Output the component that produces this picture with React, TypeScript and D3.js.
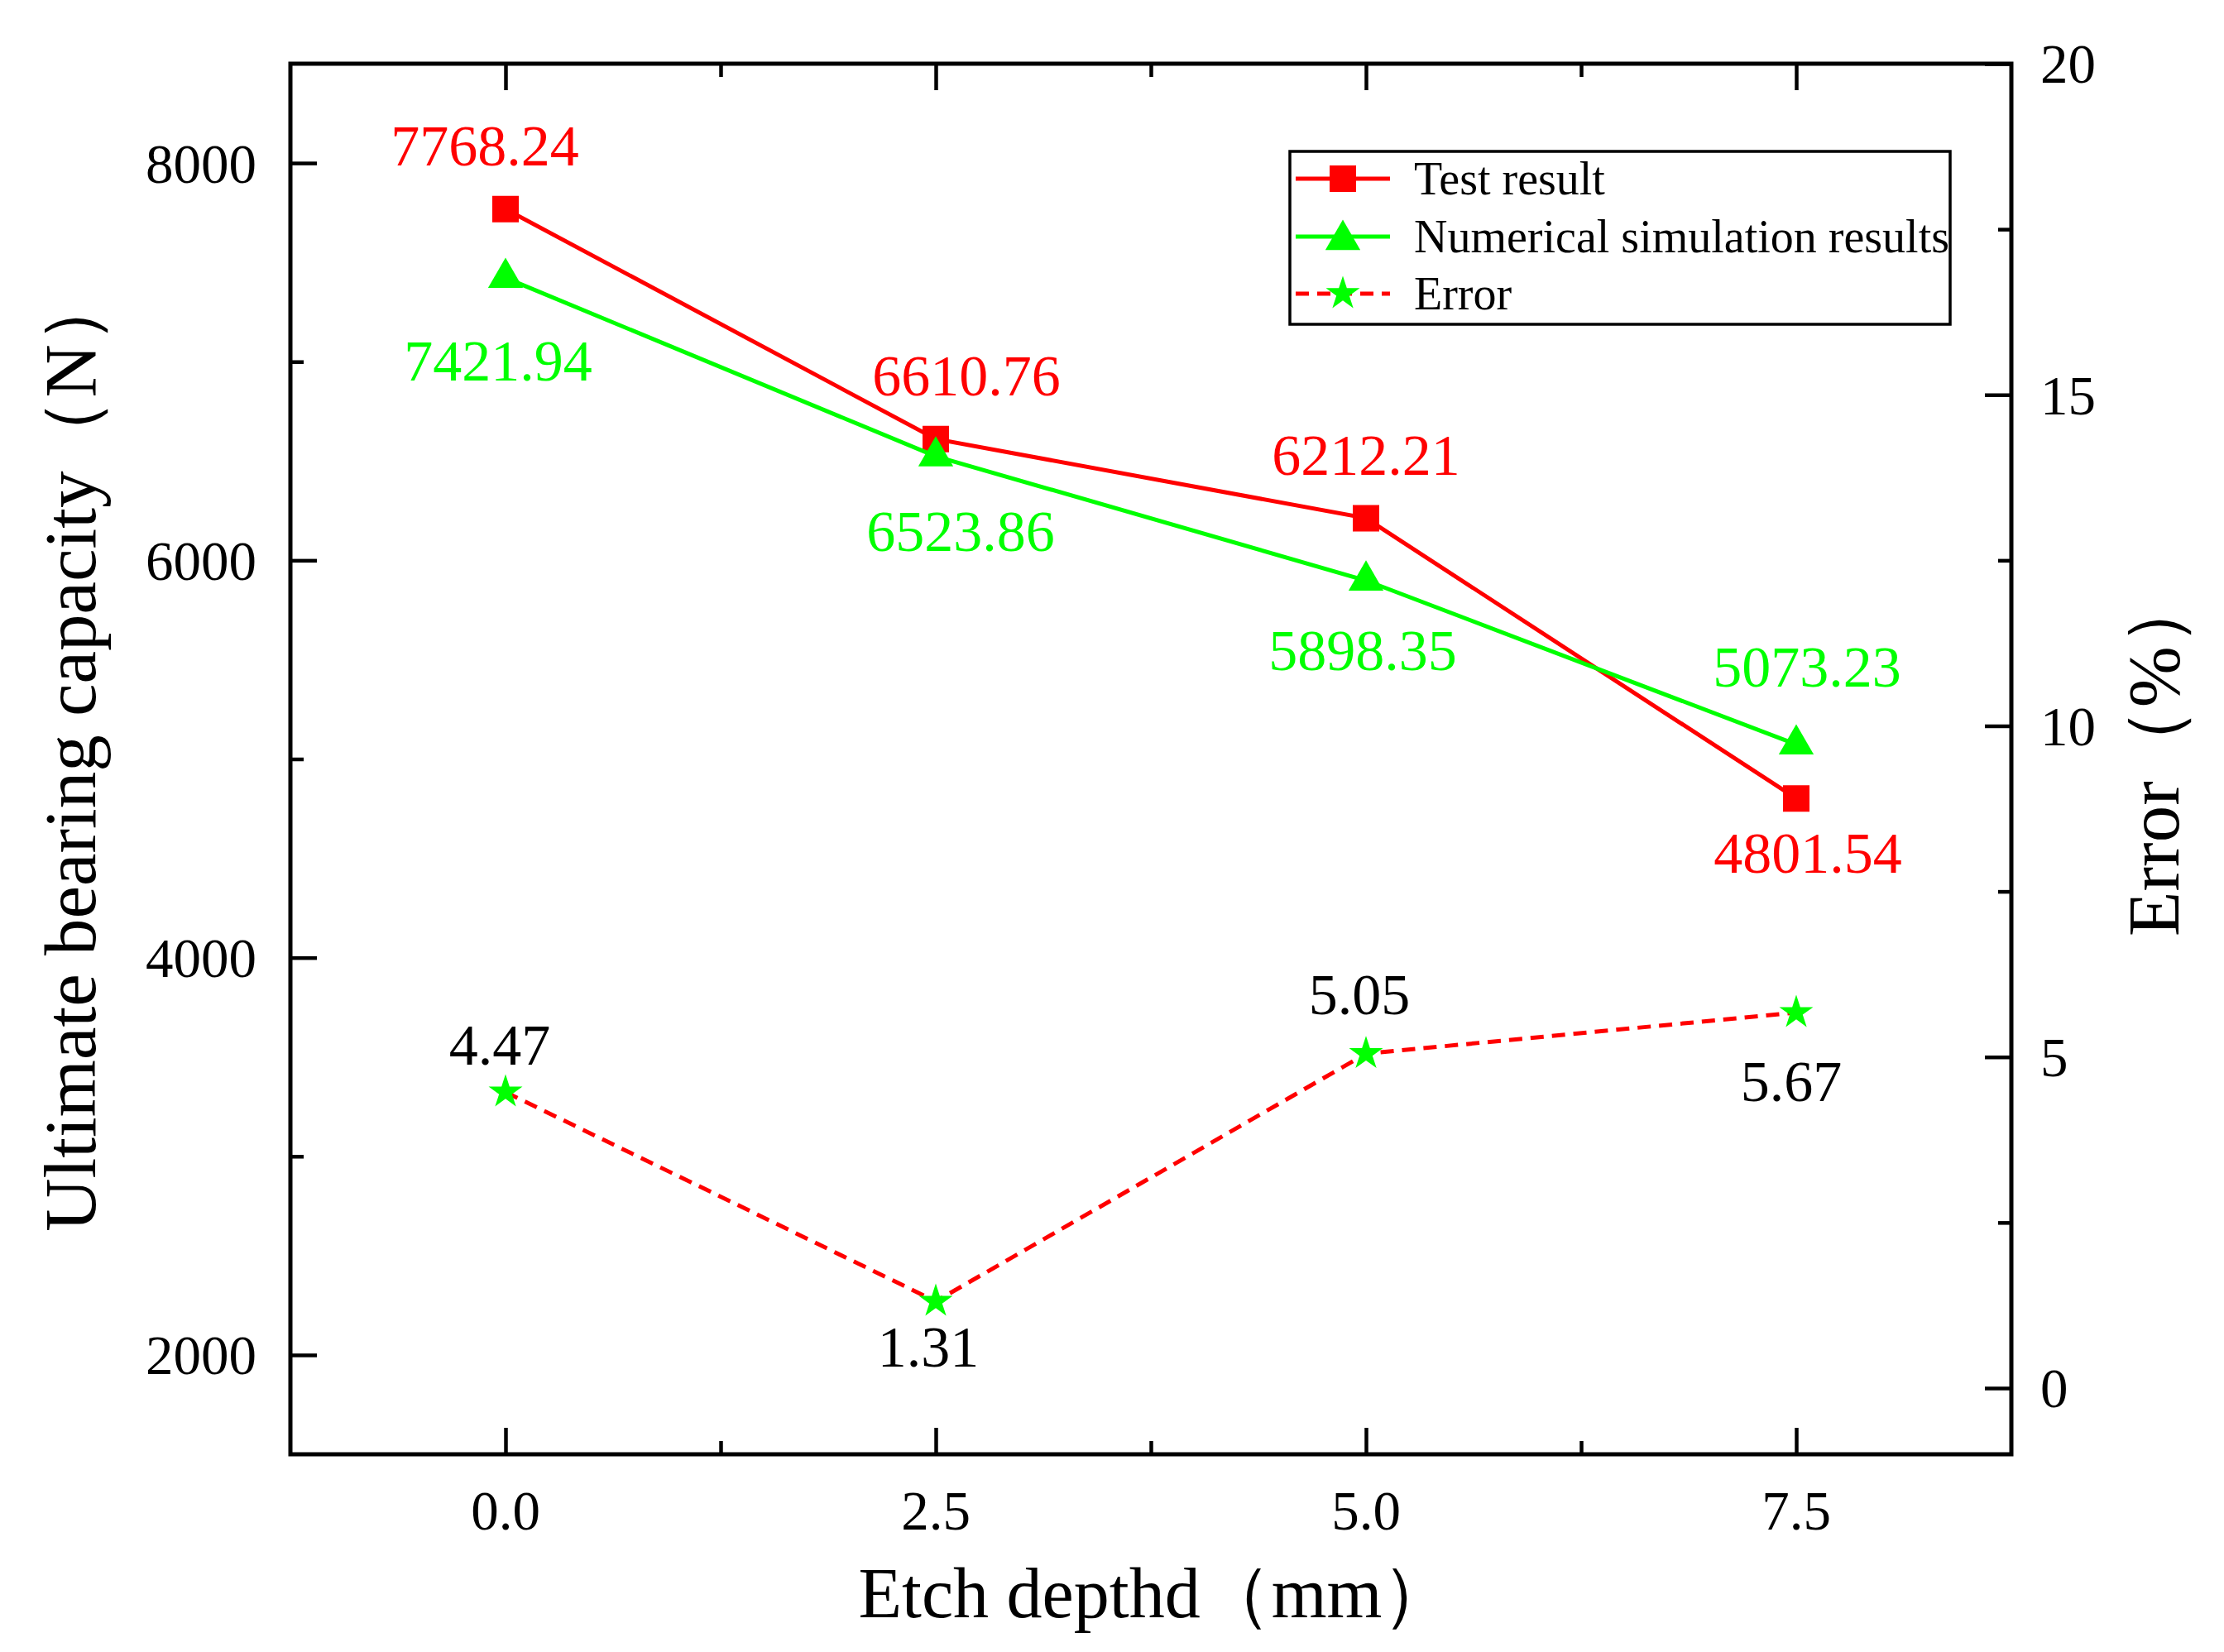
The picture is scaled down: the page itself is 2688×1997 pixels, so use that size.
import React, { useEffect, useRef } from 'react';
import * as d3 from 'd3';

// etch depth (mm)
const depths = [0, 2.5, 5.0, 7.5];
// ultimate bearing capacity (N)
const testResult = [7768.24, 6610.76, 6212.21, 4801.54];
const simResult = [7421.94, 6523.86, 5898.35, 5073.23];
// error (%)
const errorPct = [4.47, 1.31, 5.05, 5.67];

const xTicks = [0, 2.5, 5, 7.5];
const xMinorTicks = [1.25, 3.75, 6.25];
const yTicks = [2000, 4000, 6000, 8000];
const yMinorTicks = [3000, 5000, 7000];
const errTicks = [0, 5, 10, 15, 20];
const errMinorTicks = [2.5, 7.5, 12.5, 17.5];

const legendLabels = ['Test result', 'Numerical simulation results', 'Error'];

// label nudges [dx, dy] from each point
const testLabelNudge = [[-25, -53], [37, -53], [0, -52], [14, 90]];
const simLabelNudge = [[-9, 124], [30, 114], [-4, 108], [13, -70]];
const errLabelNudge = [[-7, -33], [-9, 79], [-8, -48], [-6, 107]];

const RED = '#ff0000';
const GREEN = '#00ff00';
const FONT = "'Liberation Serif', 'Times New Roman', serif";

export default function App() {
  const svgRef = useRef<SVGSVGElement>(null);

  useEffect(() => {
    if (!svgRef.current) return;
    const svg = d3.select(svgRef.current);
    svg.selectAll('*').remove();

    const W = 2688;
    const H = 1997;
    const left = 351, right = 2431, top = 77, bottom = 1758;

    svg.attr('width', W).attr('height', H);
    svg.append('rect').attr('width', W).attr('height', H).attr('fill', 'white');

    // 比例尺
    const x = d3.scaleLinear().domain([-1.25, 8.75]).range([left, right]);
    const y = d3.scaleLinear().domain([1500, 8500]).range([bottom, top]);
    const yErr = d3.scaleLinear().domain([-1, 20]).range([bottom, top]);

    // ticks (inward)
    const tickGroup = (axis: d3.Axis<d3.NumberValue>, tx: number, ty: number) => {
      const g = svg.append('g').attr('transform', `translate(${tx},${ty})`).call(axis);
      g.select('.domain').remove();
      g.selectAll('line').attr('stroke', 'black').attr('stroke-width', 4.5);
      g.selectAll('text').remove();
    };
    tickGroup(d3.axisBottom(x).tickValues(xTicks).tickSize(-32), 0, bottom);
    tickGroup(d3.axisBottom(x).tickValues(xMinorTicks).tickSize(-16), 0, bottom);
    tickGroup(d3.axisTop(x).tickValues(xTicks).tickSize(-32), 0, top);
    tickGroup(d3.axisTop(x).tickValues(xMinorTicks).tickSize(-16), 0, top);
    tickGroup(d3.axisLeft(y).tickValues(yTicks).tickSize(-32), left, 0);
    tickGroup(d3.axisLeft(y).tickValues(yMinorTicks).tickSize(-16), left, 0);
    tickGroup(d3.axisRight(yErr).tickValues(errTicks).tickSize(-32), right, 0);
    tickGroup(d3.axisRight(yErr).tickValues(errMinorTicks).tickSize(-16), right, 0);

    // frame
    svg.append('rect')
      .attr('x', left).attr('y', top)
      .attr('width', right - left).attr('height', bottom - top)
      .attr('fill', 'none').attr('stroke', 'black').attr('stroke-width', 5);

    const txt = (s: string, px: number, py: number, size: number, anchor = 'middle', color = 'black') =>
      svg.append('text')
        .attr('x', px).attr('y', py)
        .attr('text-anchor', anchor)
        .attr('font-family', FONT)
        .attr('font-size', size)
        .attr('fill', color)
        .text(s);

    // tick labels
    xTicks.forEach(v => txt(d3.format('.1f')(v), x(v), 1849, 67));
    yTicks.forEach(v => txt(String(v), 310, y(v), 67, 'end').attr('dy', '0.35em'));
    errTicks.forEach(v => txt(String(v), 2466, yErr(v), 67, 'start').attr('dy', '0.35em'));

    // axis titles
    txt('Etch depthd（mm）', 1397, 1955, 86);
    txt('Ultimate bearing capacity（N）', 0, 0, 89)
      .attr('transform', `translate(115,908) rotate(-90)`);
    txt('Error（%）', 0, 0, 89)
      .attr('transform', `translate(2633,912) rotate(-90)`);

    // 线条生成器
    const lineL = d3.line<number>().x((_, i) => x(depths[i])).y(d => y(d));
    const lineE = d3.line<number>().x((_, i) => x(depths[i])).y(d => yErr(d));

    const square = d3.symbol().type(d3.symbolSquare).size(1024)();
    const triangle = d3.symbol().type(d3.symbolTriangle).size(773)();
    const star = d3.symbol().type(d3.symbolStar).size(520)();

    // error (dashed)
    svg.append('path').datum(errorPct)
      .attr('fill', 'none').attr('stroke', RED).attr('stroke-width', 5)
      .attr('stroke-dasharray', '16,10').attr('d', lineE);
    // test result
    svg.append('path').datum(testResult)
      .attr('fill', 'none').attr('stroke', RED).attr('stroke-width', 5).attr('d', lineL);
    svg.selectAll('.sq').data(testResult).enter().append('path')
      .attr('d', square).attr('fill', RED)
      .attr('transform', (d, i) => `translate(${x(depths[i])},${y(d)})`);
    // simulation
    svg.append('path').datum(simResult)
      .attr('fill', 'none').attr('stroke', GREEN).attr('stroke-width', 5).attr('d', lineL);
    svg.selectAll('.tri').data(simResult).enter().append('path')
      .attr('d', triangle).attr('fill', GREEN)
      .attr('transform', (d, i) => `translate(${x(depths[i])},${y(d)})`);
    svg.selectAll('.star').data(errorPct).enter().append('path')
      .attr('d', star).attr('fill', GREEN)
      .attr('transform', (d, i) => `translate(${x(depths[i])},${yErr(d)})`);

    // 数据标签
    testResult.forEach((d, i) =>
      txt(d.toFixed(2), x(depths[i]) + testLabelNudge[i][0], y(d) + testLabelNudge[i][1], 70, 'middle', RED));
    simResult.forEach((d, i) =>
      txt(d.toFixed(2), x(depths[i]) + simLabelNudge[i][0], y(d) + simLabelNudge[i][1], 70, 'middle', GREEN));
    errorPct.forEach((d, i) =>
      txt(d.toFixed(2), x(depths[i]) + errLabelNudge[i][0], yErr(d) + errLabelNudge[i][1], 70, 'middle', 'black'));

    // legend
    const lg = svg.append('g');
    lg.append('rect')
      .attr('x', 1559).attr('y', 183).attr('width', 798).attr('height', 209)
      .attr('fill', 'white').attr('stroke', 'black').attr('stroke-width', 3.5);
    const rowY = [216, 286, 355];
    const rowSym = [square, triangle, star];
    const rowDash = [null, null, '16,10'];
    const rowLine = [RED, GREEN, RED];
    const rowFill = [RED, GREEN, GREEN];
    legendLabels.forEach((label, i) => {
      lg.append('line')
        .attr('x1', 1566).attr('x2', 1680).attr('y1', rowY[i]).attr('y2', rowY[i])
        .attr('stroke', rowLine[i]).attr('stroke-width', 5)
        .attr('stroke-dasharray', rowDash[i]);
      lg.append('path').attr('d', rowSym[i]).attr('fill', rowFill[i])
        .attr('transform', `translate(1623,${rowY[i] + (i === 1 ? 4 : 0)})`);
      lg.append('text')
        .attr('x', 1709).attr('y', rowY[i] + 19)
        .attr('font-family', FONT).attr('font-size', 56)
        .text(label);
    });
  }, []);

  return <svg ref={svgRef} style={{ position: 'absolute', left: 0, top: 0 }} />;
}
